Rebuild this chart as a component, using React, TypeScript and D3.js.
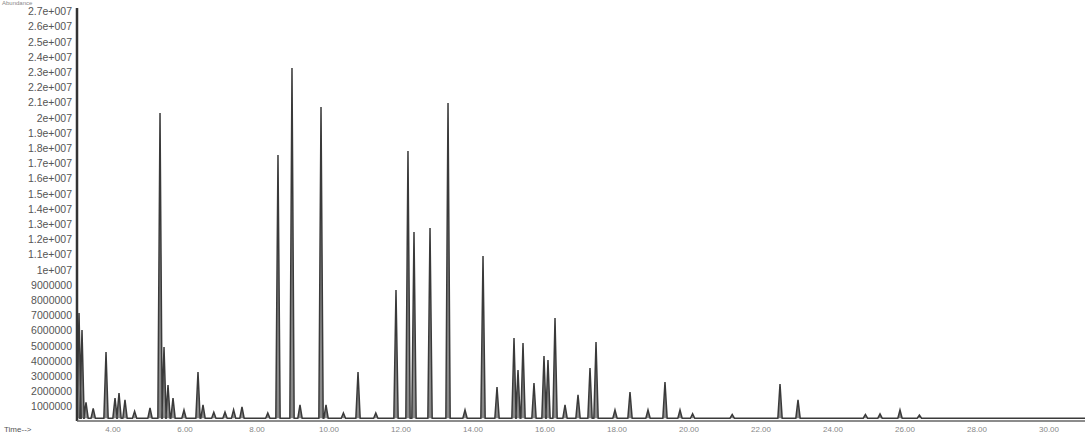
import React, { useEffect, useRef } from "react";
import * as d3 from "d3";

// retention time (min) and abundance
const peakTimes = [
  3.056, 3.139, 3.25, 3.45, 3.806, 4.056, 4.167, 4.333, 4.6, 5.028, 5.306, 5.417, 5.528,
  5.667, 5.972, 6.361, 6.5, 6.8, 7.111, 7.35, 7.583, 8.3, 8.583, 8.972, 9.194, 9.778, 9.917,
  10.4, 10.806, 11.3, 11.861, 12.194, 12.361, 12.806, 13.306, 13.778, 14.278, 14.667, 15.139,
  15.25, 15.389, 15.694, 15.972, 16.083, 16.278, 16.556, 16.917, 17.25, 17.417, 17.944,
  18.361, 18.861, 19.333, 19.75, 20.1, 21.2, 22.528, 23.028, 24.9, 25.306, 25.861, 26.4,
];
const peakAbundances = [
  7170000, 6050000, 1300000, 900000, 4610000, 1580000, 1910000, 1450000, 700000, 920000,
  20330000, 4930000, 2430000, 1580000, 790000, 3290000, 1120000, 650000, 660000, 800000,
  990000, 600000, 17570000, 23290000, 1120000, 20720000, 1120000, 600000, 3290000, 600000,
  8680000, 17830000, 12500000, 12760000, 20990000, 790000, 10920000, 2300000, 5530000,
  3420000, 5200000, 2570000, 4340000, 4080000, 6840000, 1120000, 1780000, 3550000, 5260000,
  790000, 1970000, 790000, 2630000, 790000, 550000, 500000, 2500000, 1450000, 500000, 530000,
  790000, 450000,
];
const baselineAbundance = 250000;
const yTicks = d3.range(1, 28).map((i) => i * 1000000);
const xTicks = d3.range(4, 31, 2);

const W = 1088;
const H = 439;

const fmtY = (v: number) => (v >= 10000000 ? `${+(v / 1e7).toFixed(2)}e+007` : `${v}`);

export default function App() {
  const svgRef = useRef<SVGSVGElement>(null);

  useEffect(() => {
    const svg = d3.select(svgRef.current);
    svg.selectAll("*").remove();

    const x = d3.scaleLinear().domain([3, 31]).range([77, 1085]);
    const y = d3.scaleLinear().domain([0, 1000000]).range([422, 406.8]);

    const hw = 0.06;
    const pts: [number, number][] = [[2.98, baselineAbundance]];
    peakTimes.forEach((t, i) => {
      pts.push([t - hw, baselineAbundance]);
      pts.push([t, peakAbundances[i]]);
      pts.push([t + hw, baselineAbundance]);
    });
    pts.push([31, baselineAbundance]);

    const line = d3
      .line<[number, number]>()
      .x((d) => x(d[0]))
      .y((d) => y(d[1]));

    svg
      .append("path")
      .attr("d", line(pts))
      .attr("fill", "#8a8a8a")
      .attr("stroke", "#3a3a3a")
      .attr("stroke-width", 1.5)
      .attr("stroke-linejoin", "miter");

    const font = "Liberation Sans, Arial, sans-serif";

    // axes
    const yAxis = svg.append("g");
    yAxis
      .append("line")
      .attr("x1", 77)
      .attr("x2", 77)
      .attr("y1", 8)
      .attr("y2", 421)
      .attr("stroke", "#333")
      .attr("stroke-width", 2.5);
    yAxis
      .selectAll("text")
      .data(yTicks)
      .join("text")
      .attr("x", 72)
      .attr("y", (d) => y(d) + 3.5)
      .attr("text-anchor", "end")
      .attr("font-size", 10.5)
      .attr("font-family", font)
      .attr("fill", "#555")
      .text(fmtY);
    yAxis
      .append("text")
      .attr("x", 2)
      .attr("y", 5)
      .attr("font-size", 6)
      .attr("font-family", font)
      .attr("fill", "#888")
      .text("Abundance");

    const xAxis = svg.append("g");
    xAxis
      .append("line")
      .attr("x1", 77)
      .attr("x2", 1085)
      .attr("y1", 421)
      .attr("y2", 421)
      .attr("stroke", "#666")
      .attr("stroke-width", 1.5);
    xAxis
      .selectAll("text")
      .data(xTicks)
      .join("text")
      .attr("x", (d) => x(d))
      .attr("y", 432)
      .attr("text-anchor", "middle")
      .attr("font-size", 8)
      .attr("font-family", font)
      .attr("fill", "#888")
      .text((d) => d.toFixed(2));
    xAxis
      .append("text")
      .attr("x", 4)
      .attr("y", 432)
      .attr("font-size", 8)
      .attr("font-family", font)
      .attr("fill", "#555")
      .text("Time-->");
  }, []);

  return (
    <svg
      ref={svgRef}
      width={W}
      height={H}
      style={{ position: "absolute", left: 0, top: 0, background: "#fff" }}
    />
  );
}
